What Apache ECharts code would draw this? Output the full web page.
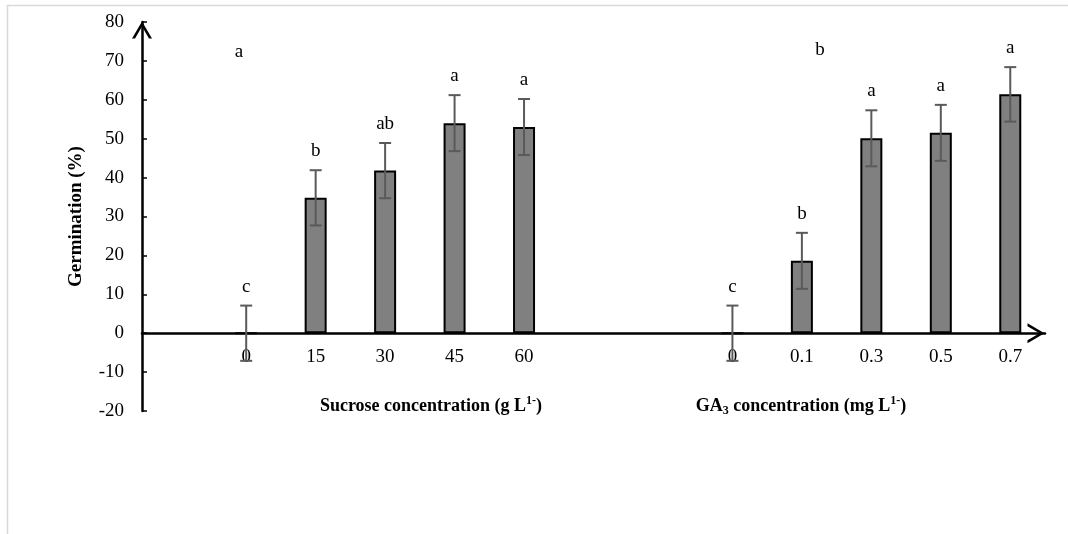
<!DOCTYPE html>
<html>
<head>
<meta charset="utf-8">
<script src="https://cdn.jsdelivr.net/npm/echarts@6/dist/echarts.min.js"></script>
<style>
html, body { margin: 0; padding: 0; background: #fff; }
#chart { width: 1068px; height: 534px; }
</style>
</head>
<body>
<div id="chart"></div>
<script>
// sucrose treatment (g L-1)
var sucroseLevels = ['0', '15', '30', '45', '60'];
var sucroseMean = [0, 34.8, 41.8, 54.0, 53.0];
var sucroseErr = [7.1, 7.1, 7.1, 7.2, 7.2];
var sucroseLetters = ['c', 'b', 'ab', 'a', 'a'];

// GA3 treatment (mg L-1)
var gaLevels = ['0', '0.1', '0.3', '0.5', '0.7'];
var gaMean = [0, 18.6, 50.1, 51.5, 61.4];
var gaErr = [7.1, 7.2, 7.2, 7.2, 7.0];
var gaLetters = ['c', 'b', 'a', 'a', 'a'];

var yMin = -20, yMax = 80, yStep = 10;

var FONT = '"Liberation Serif", "Times New Roman", serif';

// one empty slot in front, two between the groups
var categories = [''].concat(sucroseLevels, ['', ''], gaLevels);
var means = [null].concat(sucroseMean, [null, null], gaMean);
var errs = [null].concat(sucroseErr, [null, null], gaErr);
var letters = [null].concat(sucroseLetters, [null, null], gaLetters);

var errData = [];
var errLetters = [];
for (var i = 0; i < means.length; i++) {
    if (means[i] === null) continue;
    errData.push([i, means[i] - errs[i], means[i] + errs[i]]);
    errLetters.push(letters[i]);
}

// open chevron used as axis arrow
var chevron = 'path://M0,17 L10,0 L20,17 L17,17 L10,5 L3,17 Z';

var gridTop = 22, gridBottom = 123, plotH = 534 - gridTop - gridBottom;
// x axis sits at value 0, labels follow it
var zeroShift = -plotH * (0 - yMin) / (yMax - yMin);

function renderErr(params, api) {
    var idx = api.value(0);
    var lo = api.coord([idx, api.value(1)]);
    var hi = api.coord([idx, api.value(2)]);
    var half = 6;
    var st = { stroke: '#5a5a5a', lineWidth: 2 };
    return {
        type: 'group',
        children: [
            { type: 'line', shape: { x1: hi[0], y1: hi[1], x2: lo[0], y2: lo[1] }, style: st },
            { type: 'line', shape: { x1: hi[0] - half, y1: hi[1], x2: hi[0] + half, y2: hi[1] }, style: st },
            { type: 'line', shape: { x1: lo[0] - half, y1: lo[1], x2: lo[0] + half, y2: lo[1] }, style: st },
            {
                type: 'text', x: hi[0], y: hi[1] - 19,
                style: { text: errLetters[params.dataIndex], align: 'center', verticalAlign: 'middle',
                         font: '19px ' + FONT, fill: '#000' }
            }
        ]
    };
}

var chart = echarts.init(document.getElementById('chart'));
chart.setOption({
    animation: false,
    textStyle: { fontFamily: FONT },
    grid: { left: 142, right: 23, top: gridTop, bottom: gridBottom, containLabel: false, outerBoundsMode: 'none' },
    xAxis: {
        type: 'category',
        data: categories,
        offset: zeroShift,
        axisLine: {
            onZero: false,
            lineStyle: { color: '#000', width: 2.5 },
            symbol: ['none', chevron],
            symbolSize: [20, 19],
            symbolOffset: [0, -9]
        },
        axisTick: { show: false },
        axisLabel: { color: '#000', fontSize: 19, fontFamily: FONT, margin: 14, interval: 0 },
        splitLine: { show: false }
    },
    yAxis: {
        type: 'value',
        min: yMin,
        max: yMax,
        interval: yStep,
        name: 'Germination (%)',
        nameLocation: 'middle',
        nameGap: 56,
        nameTextStyle: { color: '#000', fontSize: 19, fontWeight: 'bold', fontFamily: FONT },
        axisLine: {
            show: true,
            onZero: false,
            lineStyle: { color: '#000', width: 2.5 },
            symbol: ['none', chevron],
            symbolSize: [20, 17],
            symbolOffset: [0, -8]
        },
        axisTick: { show: true, inside: true, length: 5, lineStyle: { color: '#000', width: 1.5 } },
        axisLabel: { color: '#000', fontSize: 19, fontFamily: FONT, margin: 18 },
        splitLine: { show: false }
    },
    graphic: [
        {
            type: 'rect', silent: true,
            shape: { x: 7.5, y: 5.5, width: 1200, height: 700 },
            style: { fill: 'none', stroke: '#d9d9d9', lineWidth: 1.5 }
        },
        {
            type: 'text', x: 239, y: 52,
            style: { text: 'a', font: '19px ' + FONT, fill: '#000', align: 'center', verticalAlign: 'middle' }
        },
        {
            type: 'text', x: 820, y: 50,
            style: { text: 'b', font: '19px ' + FONT, fill: '#000', align: 'center', verticalAlign: 'middle' }
        },
        {
            type: 'text', x: 431, y: 406,
            style: {
                text: '{b|Sucrose concentration (g L}{sup|1-}{b|)}',
                align: 'center', verticalAlign: 'middle',
                rich: {
                    b: { fontSize: 18, fontWeight: 'bold', fontFamily: FONT, fill: '#000', lineHeight: 22 },
                    sup: { fontSize: 12, fontWeight: 'bold', fontFamily: FONT, fill: '#000', lineHeight: 22, verticalAlign: 'top' }
                }
            }
        },
        {
            type: 'text', x: 801, y: 406,
            style: {
                text: '{b|GA}{sub|3}{b| concentration (mg L}{sup|1-}{b|)}',
                align: 'center', verticalAlign: 'middle',
                rich: {
                    b: { fontSize: 18, fontWeight: 'bold', fontFamily: FONT, fill: '#000', lineHeight: 22 },
                    sup: { fontSize: 12, fontWeight: 'bold', fontFamily: FONT, fill: '#000', lineHeight: 22, verticalAlign: 'top' },
                    sub: { fontSize: 12, fontWeight: 'bold', fontFamily: FONT, fill: '#000', lineHeight: 22, verticalAlign: 'bottom' }
                }
            }
        }
    ],
    series: [
        {
            type: 'bar',
            data: means,
            barWidth: 22,
            itemStyle: { color: '#808080', borderColor: '#000', borderWidth: 2 }
        },
        {
            type: 'custom',
            renderItem: renderErr,
            data: errData,
            encode: { x: 0, y: [1, 2] },
            z: 5
        }
    ]
});
</script>
</body>
</html>
